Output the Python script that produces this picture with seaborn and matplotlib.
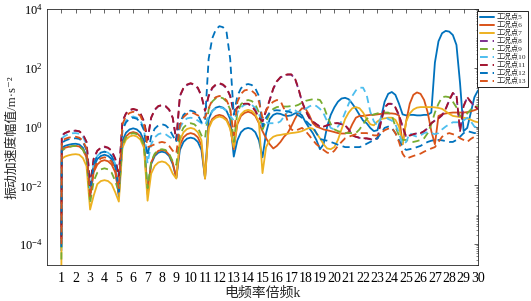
import numpy as np
import pandas as pd
import matplotlib
matplotlib.use("Agg")
import matplotlib.pyplot as plt
import matplotlib.ticker as mticker
import seaborn as sns

# harmonic order k: first point, a point just after, then quarter steps
K = np.concatenate(([1.0, 1.03], np.arange(1.25, 30.01, 0.25)))

SERIES = ["工况点5", "工况点6", "工况点7", "工况点8", "工况点9",
          "工况点10", "工况点11", "工况点12", "工况点13"]

# amplitude / m·s^-2, one row per integer k (k, k+.25, k+.5, k+.75)
AMP5 = [6e-5, 0.19, 0.22, 0.24, 0.255,
        0.26, 0.245, 0.19, 0.1,
        0.006, 0.042, 0.078, 0.1,
        0.11, 0.1, 0.078, 0.042,
        0.004, 0.33, 0.62, 0.8,
        0.87, 0.8, 0.62, 0.33,
        0.006, 0.053, 0.1, 0.13,
        0.14, 0.13, 0.1, 0.053,
        0.018, 0.16, 0.3, 0.39,
        0.42, 0.39, 0.3, 0.16,
        0.018, 1.8, 3.4, 4.4,
        4.8, 4.4, 3.4, 1.8,
        0.095, 0.34, 0.64, 0.83,
        0.9, 0.83, 0.64, 0.34,
        0.09, 0.6, 1.8, 2.5,
        2.8, 2.7, 2.4, 2.3,
        2.4, 2.8, 3.0, 2.4,
        1.4, 0.9, 0.6, 0.35,
        0.17, 0.25, 1.0, 2.5,
        4.5, 7, 9, 9.5,
        8.5, 6, 4, 2.5,
        1.6, 1.3, 0.9, 0.7,
        0.75, 2, 7, 13,
        15, 12, 6, 2.6,
        2.4, 2.5, 2.5, 2.4,
        2.4, 2.5, 2.5, 3,
        150, 800, 1500, 1800,
        1700, 1300, 600, 30,
        0.7, 0.9, 3, 10,
        17]

AMP6 = [1.2e-4, 0.16, 0.19, 0.205, 0.215,
        0.22, 0.21, 0.165, 0.09,
        0.004, 0.028, 0.051, 0.066,
        0.072, 0.066, 0.051, 0.028,
        0.005, 0.25, 0.46, 0.6,
        0.65, 0.6, 0.46, 0.25,
        0.005, 0.06, 0.11, 0.15,
        0.16, 0.15, 0.11, 0.06,
        0.018, 0.23, 0.43, 0.55,
        0.6, 0.55, 0.43, 0.23,
        0.017, 0.95, 1.8, 2.3,
        2.5, 2.3, 1.8, 0.95,
        0.17, 1.2, 2.3, 2.9,
        3.2, 2.9, 2.3, 1.3,
        0.7, 0.4, 0.25, 0.18,
        0.22, 0.3, 0.45, 0.6,
        1.0, 1.8, 3.0, 4.2,
        4.0, 2.5, 1.3, 1.0,
        0.9, 0.8, 0.75, 0.7,
        0.65, 0.6, 0.58, 0.58,
        0.65, 1.2, 2.0, 2.3,
        2.3, 2.4, 2.5, 2.5,
        2.6, 2.7, 2.8, 2.8,
        2.8, 2.7, 2.4, 0.25,
        1.5, 6, 12, 14.5,
        13, 8, 3, 0.7,
        0.25, 2.3, 2.6, 2.8,
        2.9, 3.0, 3.0, 3.0,
        3.0, 3.1, 3.3, 3.6,
        4.0]

AMP7 = [1.5e-5, 0.08, 0.095, 0.105, 0.112,
        0.115, 0.11, 0.085, 0.045,
        0.0015, 0.0045, 0.011, 0.014,
        0.015, 0.014, 0.011, 0.0058,
        0.0028, 0.19, 0.36, 0.46,
        0.5, 0.46, 0.36, 0.19,
        0.003, 0.025, 0.046, 0.06,
        0.065, 0.06, 0.046, 0.025,
        0.017, 0.34, 0.64, 0.83,
        0.9, 0.83, 0.64, 0.34,
        0.017, 0.84, 1.6, 2.0,
        2.2, 2.0, 1.6, 0.84,
        0.2, 1.4, 2.6, 3.4,
        3.7, 3.4, 2.6, 1.4,
        0.026, 0.2, 0.35, 0.45,
        0.5, 0.52, 0.55, 0.57,
        0.6, 0.62, 0.65, 0.7,
        0.8, 0.9, 0.85, 0.6,
        0.4, 0.25, 0.18, 0.17,
        0.2, 0.35, 0.8, 1.8,
        3.0, 4.2, 4.6, 4.2,
        3.0, 1.8, 1.2, 1.1,
        1.5, 1.8, 1.9, 2.0,
        2.0, 1.7, 1.0, 0.25,
        1.5, 2.8, 3.8, 4.4,
        4.6, 4.6, 4.6, 4.6,
        4.5, 4.3, 4.0, 3.3,
        2.7, 2.3, 2.2, 2.1,
        2.0, 1.9, 1.7, 1.5,
        1.4]

# mostly lies under 工况点11
AMP8 = [1.4e-4, 0.5, 0.6, 0.67, 0.71,
        0.72, 0.68, 0.53, 0.3,
        0.01, 0.08, 0.15, 0.19,
        0.2, 0.19, 0.15, 0.08,
        0.02, 1.5, 2.8, 3.6,
        3.9, 3.6, 2.8, 1.5,
        0.35, 2.0, 3.7, 4.9,
        5.3, 4.9, 3.7, 2.0,
        0.34, 11, 20, 26,
        29, 26, 20, 11,
        3.4, 11, 20, 26,
        29, 26, 20, 11,
        3.0, 4.4, 5.4, 5.9,
        5.9, 4.9, 3.4, 2.0,
        1.5, 3.4, 8, 19,
        34, 47, 54, 58,
        58, 44, 19, 7,
        3.4, 2.0, 1.5, 1.2,
        1.0, 1.0, 1.1, 1.2,
        1.3, 1.3, 1.2, 1.1,
        0.8, 0.5, 0.45, 0.41,
        0.39, 0.39, 0.37, 0.36,
        0.39, 1.5, 4.4, 5.9,
        5.9, 4.4, 2.4, 1.0,
        0.44, 0.49, 0.54, 0.59,
        0.59, 0.69, 0.88, 1.3,
        1.6, 1.9, 2.4, 3.9,
        7.8, 13.5, 11.5, 0.7,
        4.9, 9.7, 6.8, 4.9,
        3.9]

AMP9 = [3e-5, 0.15, 0.18, 0.2, 0.215,
        0.22, 0.21, 0.165, 0.09,
        0.0025, 0.014, 0.027, 0.035,
        0.038, 0.035, 0.027, 0.014,
        0.006, 0.23, 0.43, 0.55,
        0.6, 0.55, 0.43, 0.23,
        0.008, 0.065, 0.12, 0.16,
        0.17, 0.16, 0.12, 0.065,
        0.05, 0.5, 0.92, 1.2,
        1.3, 1.2, 0.92, 0.5,
        0.4, 3.8, 7.1, 9.2,
        10, 9.2, 7.1, 3.8,
        0.3, 3.0, 5.7, 7.4,
        8, 7.4, 5.7, 3.0,
        0.8, 1.5, 2.8, 4.0,
        4.6, 4.8, 4.8, 4.8,
        5, 5, 5.5, 6.5,
        7.5, 8, 8.5, 8.5,
        8, 5, 2.3, 1.2,
        0.8, 0.7, 0.65, 0.6,
        0.6, 0.6, 0.6, 0.8,
        1.2, 1.8, 2.3, 2.6,
        2.8, 3.0, 3.0, 3.0,
        2.4, 1.0, 0.5, 0.35,
        0.35, 0.32, 0.3, 0.32,
        0.35, 0.4, 0.6, 1.2,
        3, 6, 10, 10.5,
        10, 7, 4.5, 2.3,
        2.2, 2.8, 3.8, 4.6,
        5]

AMP10 = [1e-4, 0.4, 0.48, 0.55, 0.59,
         0.6, 0.57, 0.45, 0.25,
         0.008, 0.055, 0.1, 0.13,
         0.14, 0.13, 0.1, 0.055,
         0.008, 0.85, 1.6, 2.0,
         2.2, 2.0, 1.6, 0.85,
         0.056, 0.25, 0.43, 0.55,
         0.6, 0.55, 0.45, 0.38,
         0.35, 0.9, 1.5, 1.9,
         2.0, 1.9, 1.6, 1.3,
         1.1, 2.2, 3.3, 4.2,
         4.5, 4.2, 3.4, 2.3,
         1.6, 3.0, 4.5, 5.5,
         6, 5.5, 4.3, 2.6,
         1.5, 1.4, 1.3, 1.3,
         1.3, 1.5, 2.2, 3.2,
         4.0, 3.6, 3.0, 3.2,
         4.0, 4.8, 5.5, 5.0,
         4.0, 2.8, 1.5, 0.9,
         0.8, 1.0, 1.5, 3,
         6, 11, 17, 21,
         21, 12, 3.2, 1.5,
         1.1, 2.0, 2.3, 1.8,
         1.6, 1.2, 0.6, 0.25,
         0.3, 0.6, 0.5, 0.45,
         0.5, 0.6, 0.65, 0.6,
         0.55, 0.6, 0.8, 1.0,
         1.2, 1.4, 1.4, 1.4,
         1.6, 2.0, 1.5, 1.0,
         0.9]

AMP11 = [1.5e-4, 0.5, 0.6, 0.68, 0.72,
         0.73, 0.69, 0.54, 0.3,
         0.01, 0.08, 0.15, 0.19,
         0.21, 0.19, 0.15, 0.08,
         0.02, 1.5, 2.8, 3.7,
         4.0, 3.7, 2.8, 1.5,
         0.36, 2.0, 3.8, 5.0,
         5.4, 5.0, 3.8, 2.0,
         0.35, 11, 21, 27,
         30, 27, 21, 11,
         3.5, 11, 21, 27,
         30, 27, 21, 11,
         3.0, 4.5, 5.5, 6.0,
         6.0, 5.0, 3.5, 2.0,
         1.5, 3.5, 8, 20,
         35, 48, 55, 60,
         60, 45, 20, 7,
         3.5, 2.0, 1.5, 1.2,
         1.0, 1.0, 1.1, 1.2,
         1.3, 1.3, 1.2, 1.1,
         0.8, 0.5, 0.45, 0.42,
         0.4, 0.4, 0.38, 0.37,
         0.4, 1.5, 4.5, 6.0,
         6.0, 4.5, 2.5, 1.0,
         0.45, 0.5, 0.55, 0.6,
         0.6, 0.7, 0.9, 1.3,
         1.6, 1.9, 2.5, 4.0,
         8, 14, 12, 0.7,
         5, 10, 7, 5,
         4]

AMP12 = [8e-5, 0.28, 0.33, 0.37, 0.39,
         0.4, 0.38, 0.3, 0.16,
         0.005, 0.053, 0.1, 0.13,
         0.14, 0.13, 0.1, 0.053,
         0.006, 0.76, 1.4, 1.85,
         2.0, 1.85, 1.4, 0.76,
         0.1, 0.46, 0.85, 1.1,
         1.2, 1.1, 0.85, 0.5,
         0.3, 1.3, 2.5, 3.2,
         3.5, 3.2, 2.5, 1.4,
         1.5, 200, 1000, 2000,
         2600, 2400, 1600, 200,
         2.5, 11, 20, 26,
         28, 26, 20, 11,
         1.0, 2.0, 3.0, 3.5,
         3.6, 3.5, 3.4, 3.3,
         3.0, 2.7, 2.4, 2.0,
         1.6, 1.2, 1.0, 0.6,
         0.38, 0.35, 0.33, 0.3,
         0.27, 0.24, 0.22, 0.2,
         0.2, 0.2, 0.2, 0.2,
         0.22, 0.26, 0.3, 0.35,
         0.4, 0.6, 0.9, 1.0,
         0.9, 0.6, 0.35, 0.2,
         0.16, 0.17, 0.18, 0.2,
         0.22, 0.26, 0.3, 0.33,
         0.35, 0.35, 0.34, 0.32,
         0.3, 0.3, 0.35, 0.45,
         0.6, 0.7, 0.65, 0.6,
         0.6]

AMP13 = [1e-4, 0.32, 0.38, 0.42, 0.44,
         0.45, 0.42, 0.33, 0.18,
         0.004, 0.034, 0.064, 0.083,
         0.09, 0.083, 0.064, 0.034,
         0.008, 1.2, 2.3, 2.9,
         3.2, 2.9, 2.3, 1.2,
         0.2, 0.22, 0.25, 0.28,
         0.3, 0.28, 0.22, 0.15,
         0.12, 1.1, 2.1, 2.7,
         3.0, 2.8, 2.4, 2.1,
         2.0, 4.2, 7.8, 10,
         11, 10, 7.8, 4.2,
         0.5, 6.8, 13, 17,
         18, 16.5, 13, 7,
         2.0, 3.5, 5.5, 7,
         8, 7.5, 4, 1.5,
         0.8, 0.7, 0.8, 0.9,
         0.7, 0.5, 0.35, 0.25,
         0.2, 0.16, 0.13, 0.12,
         0.15, 0.22, 0.3, 0.4,
         0.45, 0.5, 0.55, 0.6,
         0.6, 0.6, 0.55, 0.5,
         0.5, 0.6, 0.75, 0.85,
         0.9, 0.6, 0.3, 0.12,
         0.08, 0.09, 0.1, 0.11,
         0.12, 0.14, 0.16, 0.18,
         0.2, 0.3, 0.45, 0.55,
         0.6, 0.55, 0.5, 0.4,
         0.35, 0.3, 0.38, 0.45,
         0.45]

AMPS = [AMP5, AMP6, AMP7, AMP8, AMP9, AMP10, AMP11, AMP12, AMP13]

# MATLAB default colour order
COLORS = ["#0072BD", "#D95319", "#EDB120", "#7E2F8E", "#77AC30",
          "#4DBEEE", "#A2142F", "#0072BD", "#D95319"]


def main():
    frames = []
    for name, amp in zip(SERIES, AMPS):
        assert len(amp) == len(K), (name, len(amp))
        frames.append(pd.DataFrame({"k": K, "amp": amp, "series": name}))
    df = pd.concat(frames, ignore_index=True)

    sns.set_theme(style="white")
    plt.rcParams["font.family"] = ["Liberation Serif", "Noto Sans CJK SC", "DejaVu Sans"]
    plt.rcParams["mathtext.fontset"] = "custom"
    plt.rcParams["mathtext.rm"] = "Liberation Serif"
    plt.rcParams["axes.unicode_minus"] = False

    fig = plt.figure(figsize=(5.31, 3.01), dpi=100)
    ax = fig.add_axes([47 / 531, 36 / 301, 431 / 531, 256 / 301])

    dashes = {s: ("" if i < 3 else (4, 2.5)) for i, s in enumerate(SERIES)}
    sns.lineplot(
        data=df, x="k", y="amp",
        hue="series", style="series",
        hue_order=SERIES, style_order=SERIES,
        palette=dict(zip(SERIES, COLORS)),
        dashes=dashes,
        estimator=None, sort=False,
        linewidth=1.3, ax=ax,
    )

    ax.set_yscale("log")
    ax.set_xlim(0, 30)
    ax.set_ylim(1.95e-5, 1e4)
    ax.xaxis.set_major_locator(mticker.FixedLocator(range(1, 31)))
    ax.yaxis.set_major_locator(mticker.FixedLocator([1e-4, 1e-2, 1, 1e2, 1e4]))
    ax.yaxis.set_minor_locator(mticker.LogLocator(base=10, subs=np.arange(1, 10), numticks=20))
    ax.yaxis.set_minor_formatter(mticker.NullFormatter())

    ax.tick_params(which="both", direction="in", top=True, right=True,
                   colors="#262626", labelcolor="black")
    ax.tick_params(which="major", length=3, width=0.5, labelsize=10)
    ax.tick_params(which="minor", length=1.8, width=0.4)
    ax.tick_params(axis="x", pad=5)
    ax.tick_params(axis="y", pad=3, labelsize=9)
    for sp in ax.spines.values():
        sp.set_color("#262626")
        sp.set_linewidth(0.6)

    ax.set_xlabel("电频率倍频k", fontsize=10, labelpad=1)
    ax.set_ylabel("振动加速度幅值/m·s⁻²", fontsize=9.3)
    ax.yaxis.set_label_coords(-0.066, 0.5)

    sns.move_legend(
        ax, "upper left", bbox_to_anchor=(0.9985, 0.992), borderaxespad=0,
        title=None, fontsize=5.3, frameon=True, fancybox=False,
        edgecolor="black", framealpha=1, handlelength=1.95,
        handletextpad=0.3, labelspacing=0.12, borderpad=0.3,
    )
    leg = ax.get_legend()
    leg.get_frame().set_linewidth(0.6)
    for h in leg.legend_handles:
        h.set_linewidth(1.4)

    fig.savefig("out.png", dpi=100)
    plt.close(fig)


if __name__ == "__main__":
    main()
